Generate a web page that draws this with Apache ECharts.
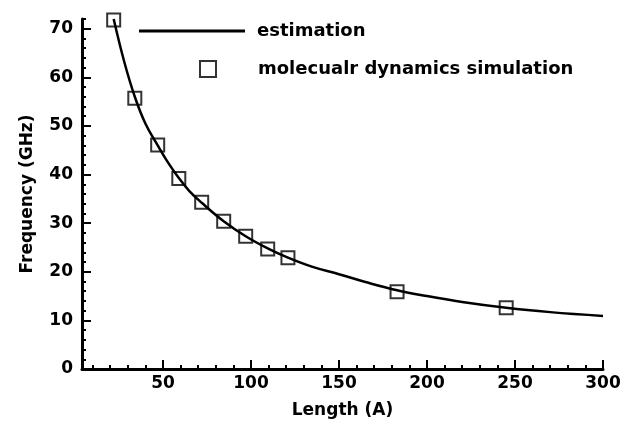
<!DOCTYPE html>
<html>
<head>
<meta charset="utf-8">
<script src="https://cdn.jsdelivr.net/npm/echarts@6/dist/echarts.min.js"></script>
<style>html,body{margin:0;padding:0;background:#fff}#c{width:624px;height:424px}</style>
</head>
<body>
<div id="c"></div>
<script>
// Molecular dynamics simulation points: length (A), frequency (GHz)
var simLength = [22, 34, 47, 59, 72, 84.5, 97, 109.5, 121, 183, 245];
var simFreq = [71.8, 55.7, 46.1, 39.2, 34.3, 30.4, 27.3, 24.7, 22.9, 15.9, 12.6];
// Estimation curve
var estLength = [22, 28, 34, 40, 47, 53, 59, 65, 72, 84.5, 97, 109.5, 121, 135, 150, 165, 183, 200, 220, 245, 270, 300];
var estFreq = [72, 63.2, 56, 50.5, 46, 42.4, 39.3, 36.6, 34.2, 30.4, 27.3, 24.8, 22.9, 21.0, 19.5, 17.9, 16.2, 15.0, 13.8, 12.6, 11.7, 10.9];
// Axis ticks
var xMajorTicks = [50, 100, 150, 200, 250, 300];
var xMinorTicks = [10, 20, 30, 40, 60, 70, 80, 90, 110, 120, 130, 140, 160, 170, 180, 190, 210, 220, 230, 240, 260, 270, 280, 290];
var yMajorTicks = [0, 10, 20, 30, 40, 50, 60, 70];
var yMinorTicks = [2, 4, 6, 8, 12, 14, 16, 18, 22, 24, 26, 28, 32, 34, 36, 38, 42, 44, 46, 48, 52, 54, 56, 58, 62, 64, 66, 68, 72];

var FONT = 'DejaVu Sans';
var chart = echarts.init(document.getElementById('c'), null, {renderer: 'canvas'});

function zip(a, b) { return a.map(function (v, i) { return [v, b[i]]; }); }

var axisLineStyle = {color: '#000', width: 3};

chart.setOption({
  animation: false,
  backgroundColor: '#fff',
  grid: {left: 82, right: 21, top: 19, bottom: 52, containLabel: false},
  xAxis: [{
    type: 'value', min: 4, max: 300,
    name: 'Length (A)', nameLocation: 'middle', nameGap: 33,
    nameTextStyle: {color: '#000', fontFamily: FONT, fontWeight: 'bold', fontSize: 17},
    axisLine: {show: true, onZero: false, lineStyle: axisLineStyle},
    axisTick: {show: true, inside: true, length: 9, customValues: xMajorTicks, lineStyle: {color: '#000', width: 2}},
    axisLabel: {show: true, customValues: xMajorTicks, margin: 6, color: '#000', fontFamily: FONT, fontWeight: 'bold', fontSize: 17},
    splitLine: {show: false}
  }, {
    type: 'value', min: 4, max: 300, position: 'bottom',
    axisLine: {show: false},
    axisTick: {show: true, inside: true, length: 4, customValues: xMinorTicks, lineStyle: {color: '#000', width: 2}},
    axisLabel: {show: false},
    splitLine: {show: false}
  }],
  yAxis: [{
    type: 'value', min: 0, max: 72,
    name: 'Frequency (GHz)', nameLocation: 'middle', nameGap: 46, nameRotate: 90,
    nameTextStyle: {color: '#000', fontFamily: FONT, fontWeight: 'bold', fontSize: 17},
    axisLine: {show: true, onZero: false, lineStyle: axisLineStyle},
    axisTick: {show: true, inside: true, length: 9, customValues: yMajorTicks, lineStyle: {color: '#000', width: 2}},
    axisLabel: {show: true, customValues: yMajorTicks, margin: 9, color: '#000', fontFamily: FONT, fontWeight: 'bold', fontSize: 17},
    splitLine: {show: false}
  }, {
    type: 'value', min: 0, max: 72, position: 'left',
    axisLine: {show: false},
    axisTick: {show: true, inside: true, length: 4, customValues: yMinorTicks, lineStyle: {color: '#000', width: 2}},
    axisLabel: {show: false},
    splitLine: {show: false}
  }],
  legend: [{
    data: [{name: 'estimation', icon: 'rect'}],
    left: 134, top: 17, itemWidth: 106, itemHeight: 3,
    itemStyle: {color: '#000'},
    textStyle: {color: '#000', fontFamily: FONT, fontWeight: 'bold', fontSize: 18, padding: [0, 0, 0, 7]},
    selectedMode: false
  }, {
    data: ['molecualr dynamics simulation'],
    left: 194, top: 55, itemWidth: 16, itemHeight: 16,
    textStyle: {color: '#000', fontFamily: FONT, fontWeight: 'bold', fontSize: 18, padding: [0, 0, 0, 37]},
    selectedMode: false
  }],
  series: [{
    name: 'estimation', type: 'line', smooth: 0.4,
    data: zip(estLength, estFreq),
    showSymbol: false, symbol: 'none',
    lineStyle: {color: '#000', width: 2.5},
    itemStyle: {color: '#000'},
    z: 2
  }, {
    name: 'molecualr dynamics simulation', type: 'scatter',
    data: zip(simLength, simFreq),
    symbol: 'rect', symbolSize: 13,
    itemStyle: {color: 'rgba(255,255,255,0)', borderColor: '#000', borderWidth: 2},
    z: 3
  }]
});
</script>
</body>
</html>
